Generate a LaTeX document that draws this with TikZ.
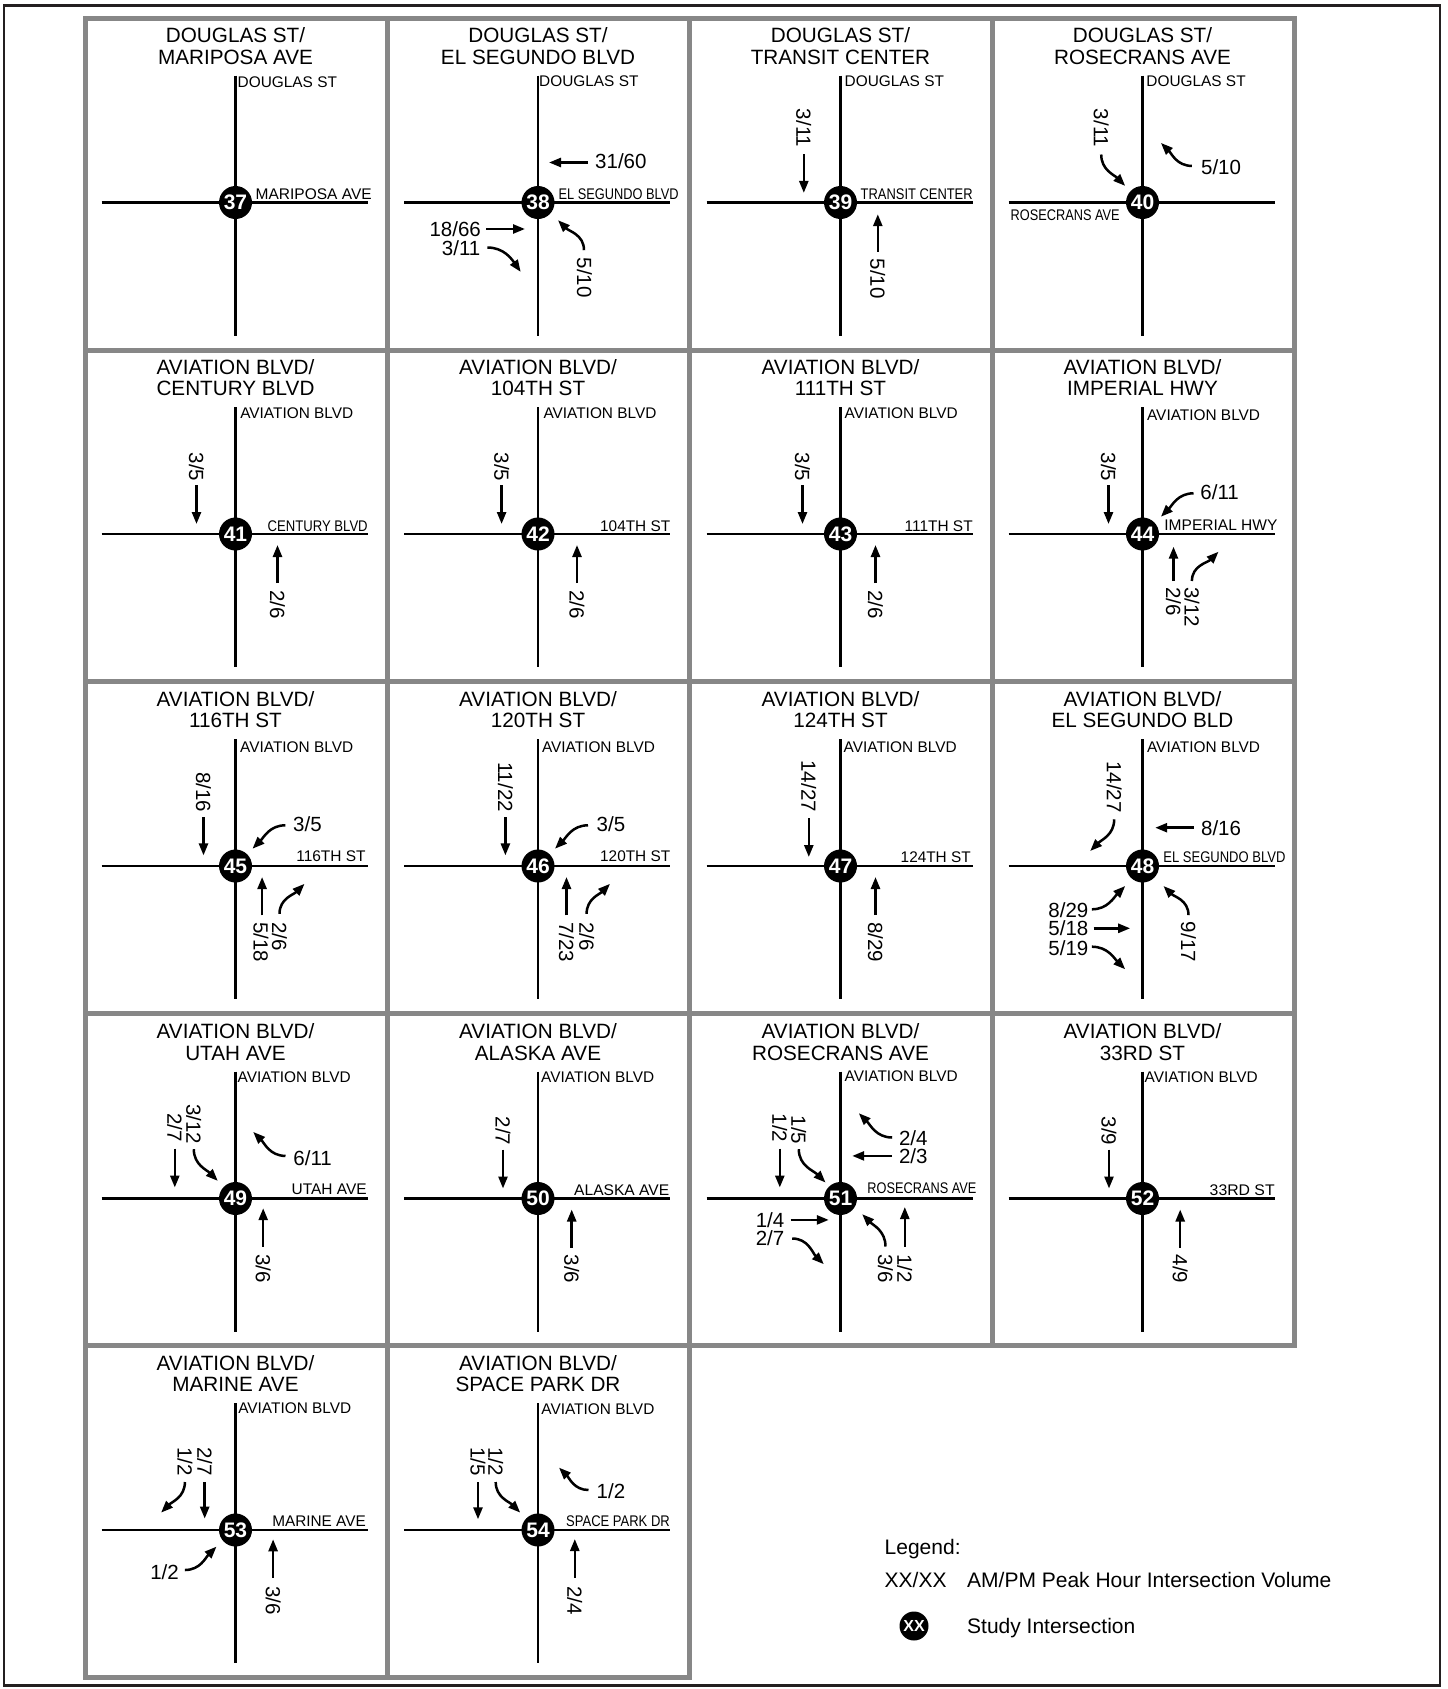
\documentclass[tikz,border=0pt]{standalone}
\usepackage{fontspec}
\usepackage{graphicx}
\setmainfont{Liberation Sans}
\usetikzlibrary{arrows.meta}
\definecolor{gridgray}{HTML}{878787}
\definecolor{frameblk}{HTML}{231F20}
\tikzset{
 road/.style={line width=2.6pt, line cap=butt},
 gridln/.style={line width=5pt, draw=gridgray},
 isec/.style={circle, fill=black, minimum size=33pt, inner sep=0pt, text=white, font=\fontsize{21}{21}\selectfont\bfseries},
 ttl/.style={inner sep=0pt, anchor=base, font=\fontsize{20.7}{22}\selectfont},
 rdl/.style={inner sep=0pt, anchor=base west, font=\fontsize{15.4}{16}\selectfont},
 vol/.style={inner sep=0pt, font=\fontsize{20.5}{22}\selectfont},
 volw/.style={vol, anchor=west},
 vole/.style={vol, anchor=east},
 vrs/.style={vol, rotate=-90, anchor=west},
 vrn/.style={vol, rotate=-90, anchor=east},
 mv/.style={line width=2.5pt, -{Triangle[length=12pt,width=9pt]}},
 lgd/.style={inner sep=0pt, anchor=base west, font=\fontsize{21}{22}\selectfont},
}
\newcommand\cellframe[6]{%
 \draw[road] (0,127) -- (0,-133);
 \draw[road] (-134,0) -- (132,0);
 \node[isec] (c#1) at (0,0) {#1};
 \node[ttl] (ha#1) at (0,160) {#2};
 \node[ttl] (hb#1) at (0,138.5) {#3};
 \node[rdl] (n#1) at (#4,#5) {#6};
}
\newcommand\hl[2]{\resizebox{#1pt}{\height}{#2}}
\begin{document}
\begin{tikzpicture}[x=1pt,y=1pt]
\useasboundingbox (0,0) rectangle (1448,-1689);
% frame
\draw[line width=2.5pt, draw=frameblk] (4,-5.5) rectangle (1440,-1685.5);
% grid
\draw[gridln] (85,-18.5) rectangle (1294.5,-1345.3);
\draw[gridln] (387.4,-18.5) -- (387.4,-1345.3);
\draw[gridln] (689.75,-18.5) -- (689.75,-1345.3);
\draw[gridln] (992.1,-18.5) -- (992.1,-1345.3);
\draw[gridln] (85,-350.2) -- (1294.5,-350.2);
\draw[gridln] (85,-681.9) -- (1294.5,-681.9);
\draw[gridln] (85,-1013.6) -- (1294.5,-1013.6);
\draw[gridln] (85,-1345.3) rectangle (689.75,-1677);
\draw[gridln] (387.4,-1345.3) -- (387.4,-1677);

% ---- 37
\begin{scope}[shift={(235.5,-202.5)}]
\cellframe{37}{DOUGLAS ST/}{MARIPOSA AVE}{2}{115.5}{DOUGLAS ST}
\node[rdl] (e37) at (20,3) {\hl{116}{MARIPOSA AVE}};
\end{scope}

% ---- 38
\begin{scope}[shift={(538,-202.5)}]
\cellframe{38}{DOUGLAS ST/}{EL SEGUNDO BLVD}{1}{116}{DOUGLAS ST}
\node[rdl] (e38) at (20.5,3.5) {\hl{120}{EL SEGUNDO BLVD}};
\node[volw] (v38a) at (57,41) {31/60};
\draw[mv] (50,40) -- (11,40);
\node[vole] (v38b) at (-57,-26.5) {18/66};
\draw[mv] (-52,-26.5) -- (-13,-26.5);
\node[vole] (v38c) at (-57.5,-45.5) {3/11};
\draw[mv] (-50.6,-45) to[out=0,in=125] (-17.3,-69.4);
\node[vrs] (v38d) at (46.5,-55) {5/10};
\draw[mv] (46,-47.7) to[out=90,in=-45] (20,-17.7);
\end{scope}

% ---- 39
\begin{scope}[shift={(840.5,-202.5)}]
\cellframe{39}{DOUGLAS ST/}{TRANSIT CENTER}{4}{115.6}{DOUGLAS ST}
\node[rdl] (e39) at (20,3) {\hl{112}{TRANSIT CENTER}};
\node[vrn] (v39a) at (-36.7,55) {3/11};
\draw[mv] (-36.7,48.3) -- (-36.7,9.6);
\node[vrs] (v39b) at (37.3,-56) {5/10};
\draw[mv] (37.3,-49.4) -- (37.3,-11.7);
\end{scope}

% ---- 40
\begin{scope}[shift={(1142.5,-202.5)}]
\cellframe{40}{DOUGLAS ST/}{ROSECRANS AVE}{3.7}{115.6}{DOUGLAS ST}
\node[rdl] (e40) at (-132,-18) {\hl{109}{ROSECRANS AVE}};
\node[vrn] (v40a) at (-41.3,55) {3/11};
\draw[mv] (-41.3,48) to[out=-90,in=135] (-17.3,16.6);
\node[volw] (v40b) at (58.4,35.6) {5/10};
\draw[mv] (49.4,36.6) to[out=180,in=-45] (18.4,59.6);
\end{scope}

% ---- 41
\begin{scope}[shift={(235.5,-534)}]
\cellframe{41}{AVIATION BLVD/}{CENTURY BLVD}{4.6}{115.7}{AVIATION BLVD}
\node[rdl] (e41) at (32,2.5) {\hl{100}{CENTURY BLVD}};
\node[vrn] (v41a) at (-39,52.5) {3/5};
\draw[mv] (-39,49) -- (-39,10);
\node[vrs] (v41b) at (42,-56) {2/6};
\draw[mv] (42,-49) -- (42,-11);
\end{scope}

% ---- 42
\begin{scope}[shift={(538,-534)}]
\cellframe{42}{AVIATION BLVD/}{104TH ST}{5.3}{115.7}{AVIATION BLVD}
\node[rdl] (e42) at (62,2.5) {\hl{70}{104TH ST}};
\node[vrn] (v42a) at (-36.4,52.5) {3/5};
\draw[mv] (-36.4,49) -- (-36.4,10);
\node[vrs] (v42b) at (39,-56) {2/6};
\draw[mv] (39,-49) -- (39,-11);
\end{scope}

% ---- 43
\begin{scope}[shift={(840.5,-534)}]
\cellframe{43}{AVIATION BLVD/}{111TH ST}{4}{115.7}{AVIATION BLVD}
\node[rdl] (e43) at (64,2.5) {\hl{68}{111TH ST}};
\node[vrn] (v43a) at (-38,52.5) {3/5};
\draw[mv] (-38,49) -- (-38,10);
\node[vrs] (v43b) at (35,-56) {2/6};
\draw[mv] (35,-49) -- (35,-11);
\end{scope}

% ---- 44
\begin{scope}[shift={(1142.5,-534)}]
\cellframe{44}{AVIATION BLVD/}{IMPERIAL HWY}{4.4}{114}{AVIATION BLVD}
\node[rdl] (e44) at (21.7,4) {\hl{113}{IMPERIAL HWY}};
\node[vrn] (v44a) at (-34,52.5) {3/5};
\draw[mv] (-34,49) -- (-34,10);
\node[volw] (v44b) at (57.7,42.3) {6/11};
\draw[mv] (51,40.7) to[out=180,in=45] (18.4,17.3);
\node[vrs] (v44c) at (31,-53) {2/6};
\draw[mv] (31,-47) -- (31,-12.7);
\node[vrs] (v44d) at (49.4,-53) {3/12};
\draw[mv] (49.4,-47) to[out=90,in=-135] (76,-17.7);
\end{scope}

% ---- 45
\begin{scope}[shift={(235.5,-866)}]
\cellframe{45}{AVIATION BLVD/}{116TH ST}{4.5}{114}{AVIATION BLVD}
\node[rdl] (e45) at (60.6,4.5) {\hl{69.4}{116TH ST}};
\node[vrn] (v45a) at (-32,53.5) {8/16};
\draw[mv] (-32,49) -- (-32,10.6);
\node[volw] (v45b) at (57.5,42.3) {3/5};
\draw[mv] (49.8,40.7) to[out=180,in=45] (17,17.3);
\node[vrs] (v45c) at (25.5,-56) {5/18};
\draw[mv] (26.6,-49.4) -- (26.6,-11);
\node[vrs] (v45d) at (44,-56) {2/6};
\draw[mv] (44,-47.8) to[out=90,in=-135] (69,-17.8);
\end{scope}

% ---- 46
\begin{scope}[shift={(538,-866)}]
\cellframe{46}{AVIATION BLVD/}{120TH ST}{3.8}{114}{AVIATION BLVD}
\node[rdl] (e46) at (62,4.5) {\hl{70}{120TH ST}};
\node[vrn] (v46a) at (-32.6,54) {11/22};
\draw[mv] (-32.6,49) -- (-32.6,10.6);
\node[volw] (v46b) at (58.5,42.3) {3/5};
\draw[mv] (50,40.7) to[out=180,in=45] (17,17.3);
\node[vrs] (v46c) at (28.5,-56) {7/23};
\draw[mv] (28.5,-49.4) -- (28.5,-11);
\node[vrs] (v46d) at (48.6,-56) {2/6};
\draw[mv] (48.6,-47.8) to[out=90,in=-135] (72,-17.8);
\end{scope}

% ---- 47
\begin{scope}[shift={(840.5,-866)}]
\cellframe{47}{AVIATION BLVD/}{124TH ST}{3}{114}{AVIATION BLVD}
\node[rdl] (e47) at (60,4) {\hl{70}{124TH ST}};
\node[vrn] (v47a) at (-31.7,54) {14/27};
\draw[mv] (-31.7,48) -- (-31.7,9);
\node[vrs] (v47b) at (35,-56) {8/29};
\draw[mv] (35,-49) -- (35,-11);
\end{scope}

% ---- 48
\begin{scope}[shift={(1142.5,-866)}]
\cellframe{48}{AVIATION BLVD/}{EL SEGUNDO BLD}{4.4}{114}{AVIATION BLVD}
\node[rdl] (e48) at (20.7,3.3) {\hl{122}{EL SEGUNDO BLVD}};
\node[vrn] (v48a) at (-28.3,53.3) {14/27};
\draw[mv] (-28.3,46.7) to[out=-90,in=45] (-52.3,15);
\node[volw] (v48b) at (58.4,38.3) {8/16};
\draw[mv] (51,38.3) -- (12.7,38.3);
\node[vole] (v48c) at (-54,-44.3) {8/29};
\draw[mv] (-50.6,-43.3) to[out=0,in=-135] (-17.3,-20);
\node[vole] (v48d) at (-54,-62.3) {5/18};
\draw[mv] (-49,-62.3) -- (-12.3,-62.3);
\node[vole] (v48e) at (-54,-81.7) {5/19};
\draw[mv] (-50.6,-80.7) to[out=0,in=135] (-17.3,-103.3);
\node[vrs] (v48f) at (46,-55.7) {9/17};
\draw[mv] (46,-49.1) to[out=90,in=-45] (21,-20);
\end{scope}

% ---- 49
\begin{scope}[shift={(235.5,-1198.5)}]
\cellframe{49}{AVIATION BLVD/}{UTAH AVE}{2}{116}{AVIATION BLVD}
\node[rdl] (e49) at (56,4.3) {\hl{75}{UTAH AVE}};
\node[vrn] (v49a) at (-60.7,56.6) {2/7};
\draw[mv] (-60.7,50) -- (-60.7,11);
\node[vrn] (v49b) at (-41.7,54) {3/12};
\draw[mv] (-41.7,49.3) to[out=-90,in=135] (-17.7,17.6);
\node[volw] (v49c) at (57.7,40.3) {6/11};
\draw[mv] (50,42.6) to[out=180,in=-45] (17.7,66.6);
\node[vrs] (v49d) at (27.7,-55.7) {3/6};
\draw[mv] (27.7,-48) -- (27.7,-9.7);
\end{scope}

% ---- 50
\begin{scope}[shift={(538,-1198.5)}]
\cellframe{50}{AVIATION BLVD/}{ALASKA AVE}{3}{116}{AVIATION BLVD}
\node[rdl] (e50) at (36,3.5) {\hl{95}{ALASKA AVE}};
\node[vrn] (v50a) at (-35,53) {2/7};
\draw[mv] (-35,49) -- (-35,10);
\node[vrs] (v50b) at (33.7,-56) {3/6};
\draw[mv] (33.7,-49) -- (33.7,-11);
\end{scope}

% ---- 51
\begin{scope}[shift={(840.5,-1198.5)}]
\cellframe{51}{AVIATION BLVD/}{ROSECRANS AVE}{4}{116.6}{AVIATION BLVD}
\node[rdl] (e51) at (26.7,5) {\hl{109}{ROSECRANS AVE}};
\node[vrn] (v51a) at (-60.7,56) {1/2};
\draw[mv] (-60.7,50) -- (-60.7,11);
\node[vrn] (v51b) at (-41.7,54) {1/5};
\draw[mv] (-41.7,49.3) to[out=-90,in=135] (-15,16);
\node[volw] (v51c) at (58.3,60) {2/4};
\draw[mv] (51.7,61) to[out=180,in=-45] (18.3,85.3);
\node[volw] (v51d) at (58.3,42.6) {2/3};
\draw[mv] (51.7,42.6) -- (11.7,42.6);
\node[vole] (v51e) at (-56,-21.4) {1/4};
\draw[mv] (-50,-21.4) -- (-11.7,-21.4);
\node[vole] (v51f) at (-56,-40) {2/7};
\draw[mv] (-48.3,-40) to[out=0,in=135] (-16.7,-65.7);
\node[vrs] (v51g) at (45,-55.7) {3/6};
\draw[mv] (45,-48) to[out=90,in=-45] (21.7,-15.7);
\node[vrs] (v51h) at (64.3,-55.7) {1/2};
\draw[mv] (64.3,-48) -- (64.3,-8.5);
\end{scope}

% ---- 52
\begin{scope}[shift={(1142.5,-1198.5)}]
\cellframe{52}{AVIATION BLVD/}{33RD ST}{2}{116}{AVIATION BLVD}
\node[rdl] (e52) at (67,3.5) {\hl{65}{33RD ST}};
\node[vrn] (v52a) at (-33.5,53) {3/9};
\draw[mv] (-33.5,49) -- (-33.5,10);
\node[vrs] (v52b) at (37.7,-56) {4/9};
\draw[mv] (37.7,-49) -- (37.7,-11);
\end{scope}

% ---- 53
\begin{scope}[shift={(235.5,-1530)}]
\cellframe{53}{AVIATION BLVD/}{MARINE AVE}{2.6}{117}{AVIATION BLVD}
\node[rdl] (e53) at (36.6,3.4) {\hl{93.5}{MARINE AVE}};
\node[vrn] (v53a) at (-50.6,54) {1/2};
\draw[mv] (-50.6,48) to[out=-90,in=45] (-74.4,17.4);
\node[vrn] (v53b) at (-30.8,54) {2/7};
\draw[mv] (-30.8,48) -- (-30.8,11.4);
\node[vole] (v53c) at (-56.5,-42.6) {1/2};
\draw[mv] (-50.6,-40) to[out=0,in=-135] (-19,-16.6);
\node[vrs] (v53d) at (37.6,-56) {3/6};
\draw[mv] (37.6,-47.6) -- (37.6,-9.3);
\end{scope}

% ---- 54
\begin{scope}[shift={(538,-1530)}]
\cellframe{54}{AVIATION BLVD/}{SPACE PARK DR}{3.2}{115.7}{AVIATION BLVD}
\node[rdl] (e54) at (28,3.4) {\hl{103.6}{SPACE PARK DR}};
\node[vrn] (v54a) at (-60,54) {1/5};
\draw[mv] (-60,48) -- (-60,10.7);
\node[vrn] (v54b) at (-42.3,54) {1/2};
\draw[mv] (-42.3,48) to[out=-90,in=135] (-17.8,17.4);
\node[volw] (v54c) at (58.5,39) {1/2};
\draw[mv] (50.5,40) to[out=180,in=-45] (21,62.4);
\node[vrs] (v54d) at (36.8,-56) {2/4};
\draw[mv] (36.8,-47.6) -- (36.8,-9);
\end{scope}

% ---- legend
\node[lgd] (lg0) at (884.5,-1554) {Legend:};
\node[lgd] (lg1) at (884.5,-1587) {XX/XX};
\node[lgd] (lg2) at (967,-1587) {AM/PM Peak Hour Intersection Volume};
\node[isec, minimum size=29pt, font=\fontsize{16}{16}\selectfont\bfseries] (lgc) at (914,-1626) {XX};
\node[lgd] (lg3) at (967,-1633) {Study Intersection};
\end{tikzpicture}
\end{document}
